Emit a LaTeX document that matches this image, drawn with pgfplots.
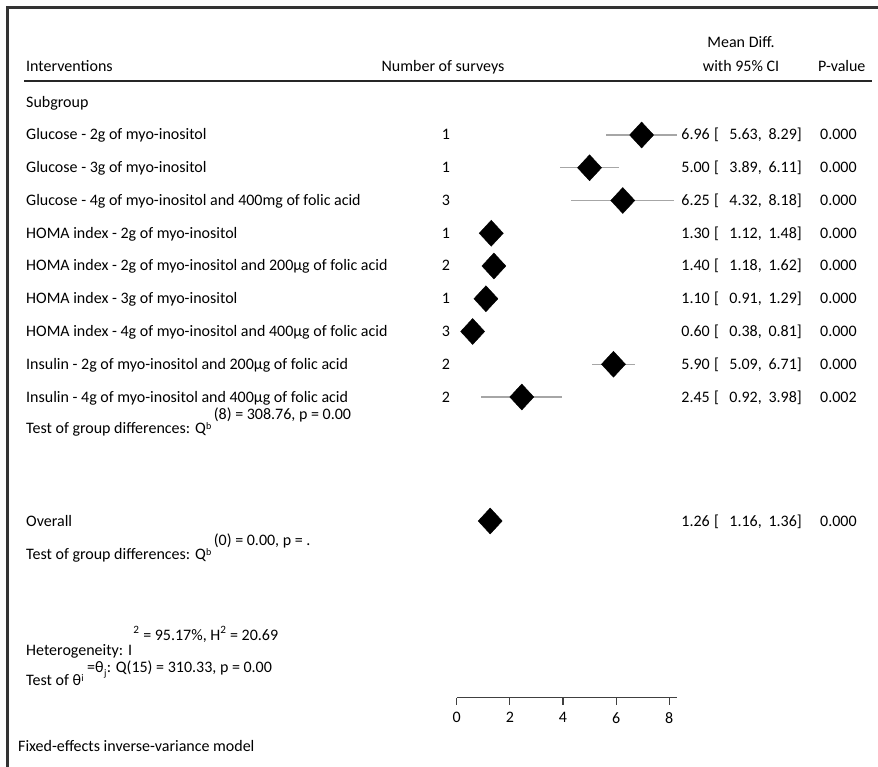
\documentclass[border=0pt]{standalone}
\usepackage{pgfplots}
\pgfplotsset{compat=1.18}
\usepackage{pgfplotstable}
\usepackage{fontspec}
\setmainfont{Carlito}
\pgfplotstableread{
est lo hi row
6.96 5.63 8.29 -135
5.00 3.89 6.11 -167.75
6.25 4.32 8.18 -200.5
1.30 1.12 1.48 -233.25
1.40 1.18 1.62 -266
1.10 0.91 1.29 -298.75
0.60 0.38 0.81 -331.5
5.90 5.09 6.71 -364.25
2.45 0.92 3.98 -397
1.26 1.16 1.36 -521
}\forestdata
\begin{document}
\begin{tikzpicture}[x=1pt,y=1pt,font=\fontsize{16}{19}\selectfont,
  t/.style={inner sep=0pt,text height=10pt,text depth=0pt},
  s/.style={inner sep=0pt,font=\fontsize{10}{12}\selectfont}]
\useasboundingbox (0,0) rectangle (878,-767);
\fill[white] (0,0) rectangle (878,-767);
\draw[line width=2.5pt,color=black!80] (7.5,-767) -- (7.5,-7.5) -- (878,-7.5);
\draw[line width=1.3pt,color=black!85] (24,-81) -- (872,-81);
% headers
\node[t,anchor=west] at (26,-67) {Interventions};
\node[t] at (443,-67) {Number of surveys};
\node[t] at (741,-43) {Mean Diff.};
\node[t] at (741,-67) {with 95\% CI};
\node[t,anchor=west] at (818,-67) {P-value};
\node[t,anchor=west] at (26,-102.25) {Subgroup};
% rows
\foreach \y/\lab/\n/\e/\l/\u/\p in {
 135/{Glucose - 2g of myo-inositol}/1/6.96/5.63/8.29/0.000,
 167.75/{Glucose - 3g of myo-inositol}/1/5.00/3.89/6.11/0.000,
 200.5/{Glucose - 4g of myo-inositol and 400mg of folic acid}/3/6.25/4.32/8.18/0.000,
 233.25/{HOMA index - 2g of myo-inositol}/1/1.30/1.12/1.48/0.000,
 266/{HOMA index - 2g of myo-inositol and 200µg of folic acid}/2/1.40/1.18/1.62/0.000,
 298.75/{HOMA index - 3g of myo-inositol}/1/1.10/0.91/1.29/0.000,
 331.5/{HOMA index - 4g of myo-inositol and 400µg of folic acid}/3/0.60/0.38/0.81/0.000,
 364.25/{Insulin - 2g of myo-inositol and 200µg of folic acid}/2/5.90/5.09/6.71/0.000,
 397/{Insulin - 4g of myo-inositol and 400µg of folic acid}/2/2.45/0.92/3.98/0.002,
 521/{Overall}/{}/1.26/1.16/1.36/0.000}{
  \node[t,anchor=west] at (26,-\y) {\lab};
  \node[t] at (446,-\y) {\n};
  \node[t,anchor=east] at (710,-\y) {\e};
  \node[t,anchor=west] at (714,-\y) {[};
  \node[t,anchor=east] at (762,-\y) {\l,};
  \node[t,anchor=east] at (802,-\y) {\u]};
  \node[t,anchor=west] at (820,-\y) {\p};
}
% test of group differences 1
\node[inner sep=0pt,anchor=base west] (q1) at (26,-433.5) {Test of group differences: Q};
\node[s,anchor=base west] (b1) at ([yshift=4pt]q1.base east) {b};
\node[inner sep=0pt,anchor=base west] at ([xshift=2pt,yshift=14pt]q1.base east -| b1.east) {(8) = 308.76, p = 0.00};
% test of group differences 2
\node[inner sep=0pt,anchor=base west] (q2) at (26,-559) {Test of group differences: Q};
\node[s,anchor=base west] (b2) at ([yshift=4pt]q2.base east) {b};
\node[inner sep=0pt,anchor=base west] at ([xshift=2pt,yshift=14pt]q2.base east -| b2.east) {(0) = 0.00, p = .};
% heterogeneity
\node[inner sep=0pt,anchor=base west] (h) at (26,-655) {Heterogeneity: I};
\node[inner sep=0pt,anchor=base west] at ([xshift=1pt,yshift=15pt]h.base east) {\textsuperscript{2} = 95.17\%, H\textsuperscript{2} = 20.69};
\node[inner sep=0pt,anchor=base west] (th) at (26,-685) {Test of θ};
\node[s,anchor=base west] (ti) at ([yshift=4pt]th.base east) {i};
\node[inner sep=0pt,anchor=base west] (eq) at ([xshift=3pt,yshift=13pt]th.base east -| ti.east) {=θ};
\node[s,anchor=base west] (j) at ([yshift=-4pt]eq.base east) {j};
\node[inner sep=0pt,anchor=base west] at (eq.base east -| j.east) {: Q(15) = 310.33, p = 0.00};
\node[t,anchor=west] at (18,-746) {Fixed-effects inverse-variance model};
% plot
\begin{axis}[
  at={(456.7pt,-697.7pt)}, anchor=south west,
  scale only axis, width=220pt, height=607.7pt,
  xmin=0, xmax=8.28, ymin=-697.7, ymax=-90,
  axis x line=bottom, axis y line=none,
  x axis line style={-, draw=black!75, line width=1.2pt},
  xtick={0,2,4,6,8},
  tick align=outside, major tick length=7pt,
  xtick style={draw=black!75, line width=1.2pt},
  xticklabel style={font=\fontsize{16}{19}\selectfont, yshift=-4pt},
  /pgf/number format/assume math mode=true,
  clip=false,
]
\addplot[draw=none, mark=none, forget plot,
  error bars/.cd, x dir=both, x explicit,
  error mark=none, error bar style={draw=black!35, line width=1.3pt}]
  table[x=est, y=row,
   x error plus expr=\thisrow{hi}-\thisrow{est},
   x error minus expr=\thisrow{est}-\thisrow{lo}] {\forestdata};
\addplot[only marks, mark=square*, mark size=8.5pt,
  mark options={yscale=1.08, rotate=45, fill=black, draw=black}]
  table[x=est, y=row] {\forestdata};
\end{axis}
\end{tikzpicture}
\end{document}
